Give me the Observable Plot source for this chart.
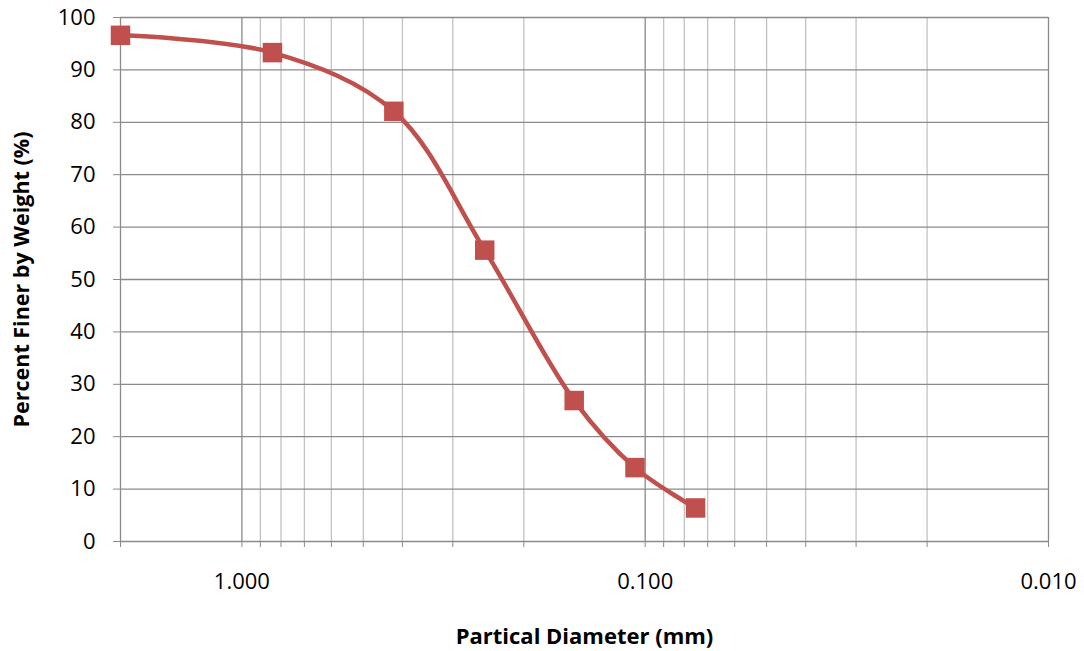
<!DOCTYPE html>
<html>
<head>
<meta charset="utf-8">
<script src="https://cdn.jsdelivr.net/npm/d3@7"></script>
<script src="https://cdn.jsdelivr.net/npm/@observablehq/plot@0.6"></script>
<style>
  html, body { margin: 0; padding: 0; background: #fff; }
  #chart svg { display: block; }
</style>
</head>
<body>
<div id="chart"></div>
<script>
// Sieve analysis data
const diameterMm = [2.0, 0.84, 0.42, 0.25, 0.15, 0.106, 0.075];
const percentFiner = [96.6, 93.3, 82.1, 55.6, 26.9, 14.1, 6.4];

// Axis tick / grid values
const xMajorTicks = [1, 0.1, 0.01];
const xMinorGrid = [0.9, 0.8, 0.7, 0.6, 0.5, 0.4, 0.3, 0.2,
                    0.09, 0.08, 0.07, 0.06, 0.05, 0.04, 0.03, 0.02];
const xEdge = [2];
const yTicks = [0, 10, 20, 30, 40, 50, 60, 70, 80, 90, 100];

const xTitle = "Partical Diameter (mm)";
const yTitle = "Percent Finer by Weight (%)";

const data = diameterMm.map((d, i) => ({d, p: percentFiner[i]}));
const allXTicks = [...xEdge, ...xMajorTicks, ...xMinorGrid];

const chart = Plot.plot({
  width: 1084,
  height: 651,
  marginTop: 17,
  marginRight: 36,
  marginBottom: 110,
  marginLeft: 120,
  style: {fontFamily: "'Open Sans', sans-serif", fontSize: "22px", color: "#000", background: "#fff"},
  x: {type: "log", domain: [2, 0.01]},
  y: {domain: [0, 100]},
  marks: [
    Plot.ruleX(xMinorGrid, {stroke: "#c3c3c3", strokeWidth: 1.3}),
    Plot.ruleX(xMajorTicks, {stroke: "#8a8a8a", strokeWidth: 1.3}),
    Plot.ruleX(xEdge, {stroke: "#8a8a8a", strokeWidth: 1.3}),
    Plot.ruleY(yTicks, {stroke: "#8a8a8a", strokeWidth: 1.3}),
    Plot.axisX({
      ticks: allXTicks,
      tickSize: 6,
      tickPadding: 26,
      stroke: "#8a8a8a",
      fill: "#000",
      fontSize: 22,
      tickFormat: d => xMajorTicks.includes(d) ? d3.format(".3f")(d) : "",
      label: null
    }),
    Plot.axisY({
      ticks: yTicks,
      tickSize: 7,
      tickPadding: 18,
      stroke: "#8a8a8a",
      fill: "#000",
      fontSize: 22,
      label: null
    }),
    Plot.line(data, {x: "d", y: "p", curve: "catmull-rom", stroke: "#C0504D", strokeWidth: 4.5}),
    Plot.dot(data, {x: "d", y: "p", symbol: "square", r: 11, fill: "#C0504D", stroke: "#C0504D", strokeWidth: 0}),
    Plot.text([xTitle], {frameAnchor: "bottom", dy: 95, textAnchor: "middle", lineAnchor: "middle", text: d => d, fontWeight: "bold", fontSize: 22, fill: "#000"}),
    Plot.text([yTitle], {frameAnchor: "left", dx: -98, rotate: -90, textAnchor: "middle", lineAnchor: "middle", text: d => d, fontWeight: "bold", fontSize: 21.5, fill: "#000"})
  ]
});
document.getElementById("chart").appendChild(chart);
</script>
</body>
</html>
